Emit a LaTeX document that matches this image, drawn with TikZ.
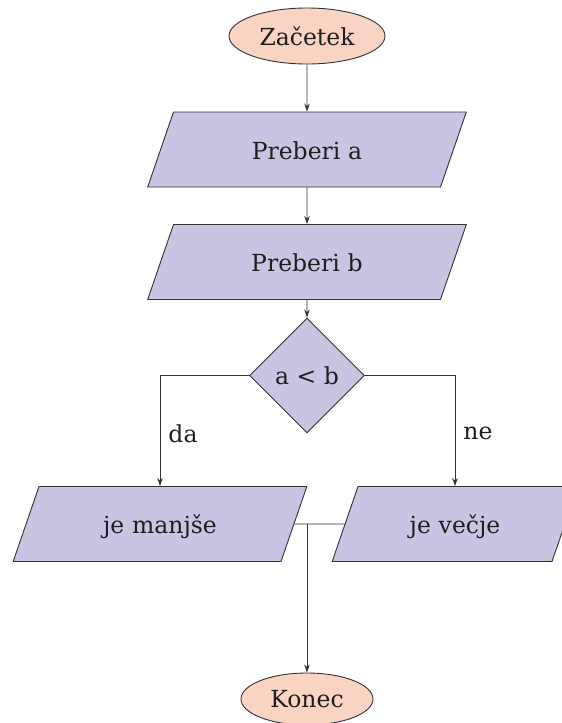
\documentclass[tikz,border=0pt]{standalone}
\usepackage{fontspec}
\setmainfont{DejaVu Serif}
\usetikzlibrary{shapes.geometric,arrows.meta}
\definecolor{peach}{HTML}{FAD4C3}
\definecolor{lav}{HTML}{C8C5E2}
\definecolor{edgec}{HTML}{333333}
\definecolor{txt}{HTML}{1E1E1E}
\begin{document}
\begin{tikzpicture}[x=1pt,y=-1pt,
  font=\fontsize{23.5}{28}\selectfont,
  term/.style={ellipse, draw=edgec, line width=0.9pt, fill=peach, inner sep=0pt, text=txt},
  io/.style={trapezium, trapezium left angle=71, trapezium right angle=109,
    draw=edgec, line width=0.9pt, fill=lav, inner xsep=0pt, inner ysep=27pt,
    text height=20pt, text depth=1pt, align=center, text=txt},
  dec/.style={diamond, draw=edgec, line width=0.9pt, fill=lav, inner sep=0pt,
    minimum width=115pt, minimum height=115pt, text=txt},
  conn/.style={draw=edgec, line width=0.9pt},
  arr/.style={conn, -{Stealth[length=8pt,width=5.5pt]}},
  lbl/.style={text=txt, anchor=base}
]
\useasboundingbox (0,0) rectangle (562,723);
\node[term, minimum width=156pt, minimum height=56pt] (start) at (307,36) {Začetek};
\node[io, text width=267pt] (pa) at (307,149.5) {Preberi a};
\node[io, text width=267pt] (pb) at (307,262) {Preberi b};
\node[dec] (d) at (307,375.5) {a < b};
\node[io, text width=242pt] (lm) at (160,524) {je manjše};
\node[io, text width=194pt] (rv) at (455,524) {je večje};
\node[term, minimum width=132pt, minimum height=52pt] (end) at (307,699) {Konec};
\coordinate (j) at (end |- lm.east);
\node[lbl] (da) at (183,442) {da};
\node[lbl] (ne) at (478,439) {ne};
\draw[arr] (start) -- (pa);
\draw[arr] (pa) -- (pb);
\draw[arr] (pb) -- (d);
\draw[arr] (d.west) -| (lm.center |- lm.north);
\draw[arr] (d.east) -| (rv.center |- rv.north);
\draw[conn] (lm.east) -- (rv.west);
\draw[arr] (j) -- (end);
\end{tikzpicture}
\end{document}
